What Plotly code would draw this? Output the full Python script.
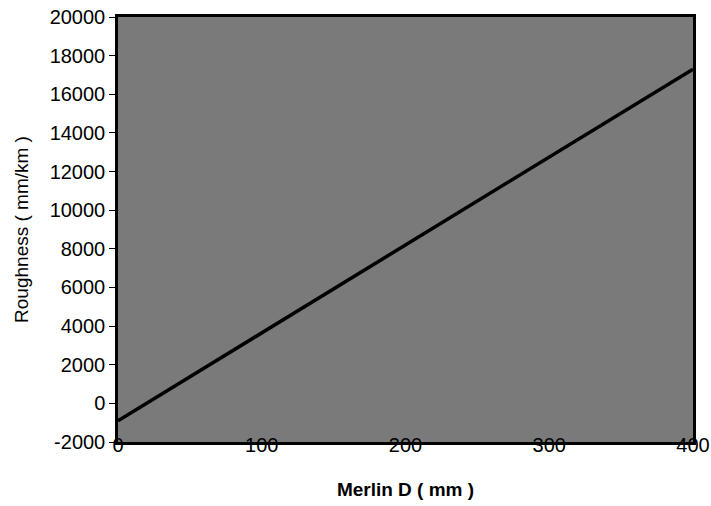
import plotly.graph_objects as go

merlin_d = [0, 400]
roughness = [-900, 17300]

x_ticks = [0, 100, 200, 300, 400]
y_ticks = [-2000, 0, 2000, 4000, 6000, 8000, 10000, 12000, 14000, 16000, 18000, 20000]
y_tick_labels = ["-2000", "0", "2000", "4000", "6000", "8000", "10000", "12000",
                 "14000", "16000", "18000", "20000"]
x_tick_labels = ["0", "100", "200", "300", "400"]

fig = go.Figure()
fig.add_trace(go.Scatter(x=merlin_d, y=roughness, mode="lines",
                         line=dict(color="black", width=3.5), showlegend=False))

font = "Liberation Sans, Arial, sans-serif"
fig.update_layout(
    width=711, height=506,
    margin=dict(l=118, r=18, t=17, b=64),
    paper_bgcolor="white",
    plot_bgcolor="#7a7a7a",
    font=dict(family=font, color="black", size=20),
    xaxis=dict(range=[0, 400.01], tickvals=x_ticks, ticktext=x_tick_labels,
               automargin=False, ticklabeloverflow="allow",
               showgrid=False, zeroline=False,
               showline=True, linecolor="black", linewidth=2.5, mirror=True,
               ticks="", tickfont=dict(size=20), ticklabelstandoff=-17,
               title=dict(text="<b>Merlin D ( mm )</b>", font=dict(size=19), standoff=28)),
    yaxis=dict(range=[-2000, 20000], tickvals=y_ticks, ticktext=y_tick_labels,
               automargin=False, ticklabeloverflow="allow",
               showgrid=False, zeroline=False,
               showline=True, linecolor="black", linewidth=2.5, mirror=True,
               ticks="outside", ticklen=6, tickcolor="black", tickfont=dict(size=20),
               title=dict(text="Roughness ( mm/km )", font=dict(size=19), standoff=16)),
)

# remove the page's default body margin so the figure sits at the window's corner
fig.write_html("out.html", config={"displayModeBar": False},
               post_script="document.body.style.margin='0';")
